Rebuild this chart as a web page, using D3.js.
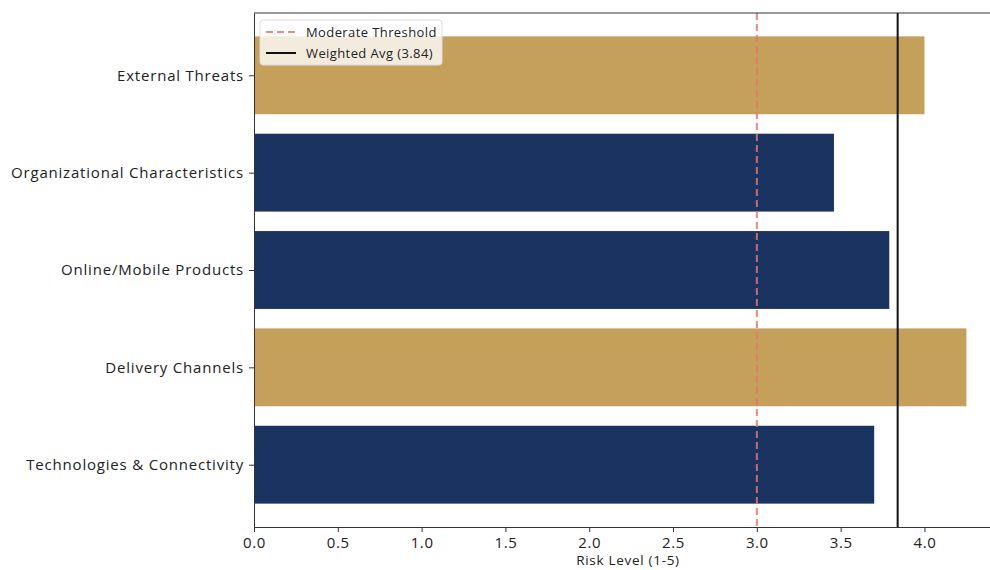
<!DOCTYPE html>
<html>
<head>
<meta charset="utf-8">
<script src="https://cdn.jsdelivr.net/npm/d3@7"></script>
<style>
  html, body { margin: 0; padding: 0; background: #fff; overflow: hidden; }
  svg { display: block; font-family: "Open Sans", sans-serif; }
</style>
</head>
<body>
<svg id="chart" width="990" height="570"></svg>
<script>
// Risk categories, listed top to bottom
const categories = [
  "External Threats",
  "Organizational Characteristics",
  "Online/Mobile Products",
  "Delivery Channels",
  "Technologies & Connectivity"
];
const riskLevels = [4.0, 3.46, 3.79, 4.25, 3.70];
const barColors = ["#C4A05A", "#1B3360", "#1B3360", "#C4A05A", "#1B3360"];
const xTicks = [0.0, 0.5, 1.0, 1.5, 2.0, 2.5, 3.0, 3.5, 4.0];
const moderateThreshold = 3.0;
const weightedAvg = 3.84;

const svg = d3.select("#chart");
const margin = { left: 254, top: 13, right: 1002, bottom: 527 };

const x = d3.scaleLinear()
  .domain([0, d3.max(riskLevels) * 1.05])
  .range([margin.left, margin.right]);

// category index scale with padding around the bar band
const n = categories.length;
const span = (n - 1) + 0.8;
const pad = span * 0.05;
const y = d3.scaleLinear()
  .domain([-0.4 - pad, (n - 1) + 0.4 + pad])
  .range([margin.top, margin.bottom]);

// bars
svg.append("g").selectAll("rect")
  .data(categories)
  .join("rect")
  .attr("x", x(0))
  .attr("y", (d, i) => y(i - 0.4))
  .attr("width", (d, i) => x(riskLevels[i]) - x(0))
  .attr("height", y(0.8) - y(0))
  .attr("fill", (d, i) => barColors[i]);

// reference lines
svg.append("line")
  .attr("x1", x(moderateThreshold)).attr("x2", x(moderateThreshold))
  .attr("y1", margin.top).attr("y2", margin.bottom)
  .attr("stroke", "#E8766C").attr("stroke-opacity", 0.85)
  .attr("stroke-width", 2).attr("stroke-dasharray", "7,4");

svg.append("line")
  .attr("x1", x(weightedAvg)).attr("x2", x(weightedAvg))
  .attr("y1", margin.top).attr("y2", margin.bottom)
  .attr("stroke", "#111").attr("stroke-width", 2);

// top spine
svg.append("line")
  .attr("x1", margin.left).attr("x2", margin.right)
  .attr("y1", margin.top).attr("y2", margin.top)
  .attr("stroke", "#333").attr("stroke-width", 1);

// x axis
const xAxis = svg.append("g")
  .attr("transform", `translate(0,${margin.bottom})`)
  .call(d3.axisBottom(x).tickValues(xTicks).tickFormat(d3.format(".1f")).tickSize(5).tickSizeOuter(0).tickPadding(5));
xAxis.select(".domain").attr("stroke", "#333");
xAxis.selectAll(".tick line").attr("stroke", "#333");
xAxis.selectAll("text").attr("font-size", 15).attr("fill", "#222")
  .attr("letter-spacing", 0.6)
  .attr("font-family", "Open Sans, sans-serif");

// y axis
const yAxis = svg.append("g")
  .attr("transform", `translate(${margin.left},0)`)
  .call(d3.axisLeft(y).tickValues(d3.range(n)).tickFormat(i => categories[i]).tickSize(5).tickSizeOuter(0).tickPadding(5));
yAxis.select(".domain").attr("stroke", "#333");
yAxis.selectAll(".tick line").attr("stroke", "#333");
yAxis.selectAll("text").attr("font-size", 15).attr("fill", "#222")
  .attr("letter-spacing", 0.8)
  .attr("font-family", "Open Sans, sans-serif");

// axis title
svg.append("text")
  .attr("x", (margin.left + margin.right) / 2)
  .attr("y", 565)
  .attr("text-anchor", "middle")
  .attr("font-size", 13.5).attr("fill", "#222")
  .attr("letter-spacing", 0.7)
  .text("Risk Level (1-5)");

// legend
const lg = svg.append("g").attr("transform", "translate(260,20)");
lg.append("rect")
  .attr("width", 182).attr("height", 45).attr("rx", 3)
  .attr("fill", "#fff").attr("fill-opacity", 0.8)
  .attr("stroke", "#ddd");
lg.append("line").attr("x1", 6).attr("x2", 36).attr("y1", 12).attr("y2", 12)
  .attr("stroke", "#E8766C").attr("stroke-opacity", 0.85)
  .attr("stroke-width", 2).attr("stroke-dasharray", "7,4");
lg.append("line").attr("x1", 6).attr("x2", 36).attr("y1", 33).attr("y2", 33)
  .attr("stroke", "#111").attr("stroke-width", 2);
lg.append("text").attr("x", 46).attr("y", 17).attr("font-size", 13).attr("fill", "#222")
  .attr("letter-spacing", 0.4)
  .text("Moderate Threshold");
lg.append("text").attr("x", 46).attr("y", 38).attr("font-size", 13).attr("fill", "#222")
  .attr("letter-spacing", 0.4)
  .text(`Weighted Avg (${weightedAvg.toFixed(2)})`);
</script>
</body>
</html>
